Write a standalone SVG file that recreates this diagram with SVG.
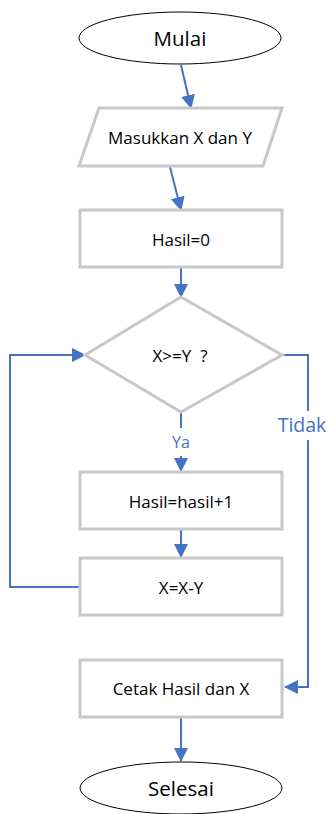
<svg xmlns="http://www.w3.org/2000/svg" width="330" height="814" viewBox="0 0 330 814">
  <style>
    .term { fill: #ffffff; stroke: #000000; stroke-width: 1; }
    .box { fill: #ffffff; stroke: #c8c8c8; stroke-width: 3; }
    .lbl { font-family: "Open Sans", "Noto Sans", sans-serif; fill: #000000; text-anchor: middle; dominant-baseline: central; }
    .big { font-size: 20.5px; }
    .mid { font-size: 17px; }
    .edge { fill: none; stroke: #4472c4; stroke-width: 2; }
    .elbl { font-family: "Open Sans", "Noto Sans", sans-serif; fill: #4472c4; text-anchor: middle; dominant-baseline: central; }
  </style>
  <defs>
    <marker id="arrow" markerUnits="userSpaceOnUse" markerWidth="14" markerHeight="14" viewBox="0 0 14 14" refX="13" refY="7" orient="auto">
      <path d="M0,0 L14,7 L0,14 Z" fill="#4472c4"/>
    </marker>
  </defs>
  <rect width="330" height="814" fill="#ffffff"/>

  <g id="connectors">
    <line class="edge" x1="181" y1="65" x2="191" y2="108" marker-end="url(#arrow)"/>
    <line class="edge" x1="170" y1="167" x2="181" y2="210" marker-end="url(#arrow)"/>
    <line class="edge" x1="181" y1="268" x2="181" y2="297" marker-end="url(#arrow)"/>
    <line class="edge" x1="181" y1="413" x2="181" y2="428"/>
    <line class="edge" x1="181" y1="456" x2="181" y2="471" marker-end="url(#arrow)"/>
    <line class="edge" x1="181" y1="530" x2="181" y2="557" marker-end="url(#arrow)"/>
    <polyline class="edge" points="80,587 10,587 10,355 85,355" marker-end="url(#arrow)"/>
    <polyline class="edge" points="282,355 308,355 308,411"/>
    <polyline class="edge" points="308,440 308,687 285,687" marker-end="url(#arrow)"/>
    <line class="edge" x1="181" y1="718" x2="181" y2="761" marker-end="url(#arrow)"/>
    <text class="elbl" x="181" y="442" style="font-size:16px">Ya</text>
    <text class="elbl" x="302" y="424" style="font-size:19.5px">Tidak</text>
  </g>

  <g id="mulai">
    <ellipse class="term" cx="180" cy="38" rx="101" ry="26"/>
    <text class="lbl big" x="180" y="38">Mulai</text>
  </g>

  <g id="input">
    <polygon class="box" points="99,108 282,108 263,166 79,166"/>
    <text class="lbl mid" x="180" y="137">Masukkan X dan Y</text>
  </g>

  <g id="init">
    <rect class="box" x="80" y="210" width="202" height="57"/>
    <text class="lbl mid" x="181" y="239">Hasil=0</text>
  </g>

  <g id="decision">
    <polygon class="box" points="181,297 282,355 181,412 85,355"/>
    <text class="lbl mid" x="180" y="355" xml:space="preserve">X&gt;=Y  ?</text>
  </g>

  <g id="increment">
    <rect class="box" x="80" y="472" width="202" height="57"/>
    <text class="lbl mid" x="181" y="501">Hasil=hasil+1</text>
  </g>

  <g id="subtract">
    <rect class="box" x="80" y="558" width="202" height="57"/>
    <text class="lbl mid" x="181" y="587">X=X-Y</text>
  </g>

  <g id="output">
    <rect class="box" x="80" y="660" width="202" height="57"/>
    <text class="lbl mid" x="181" y="688">Cetak Hasil dan X</text>
  </g>

  <g id="selesai">
    <ellipse class="term" cx="181" cy="788" rx="101" ry="26"/>
    <text class="lbl big" x="181" y="788">Selesai</text>
  </g>
</svg>
